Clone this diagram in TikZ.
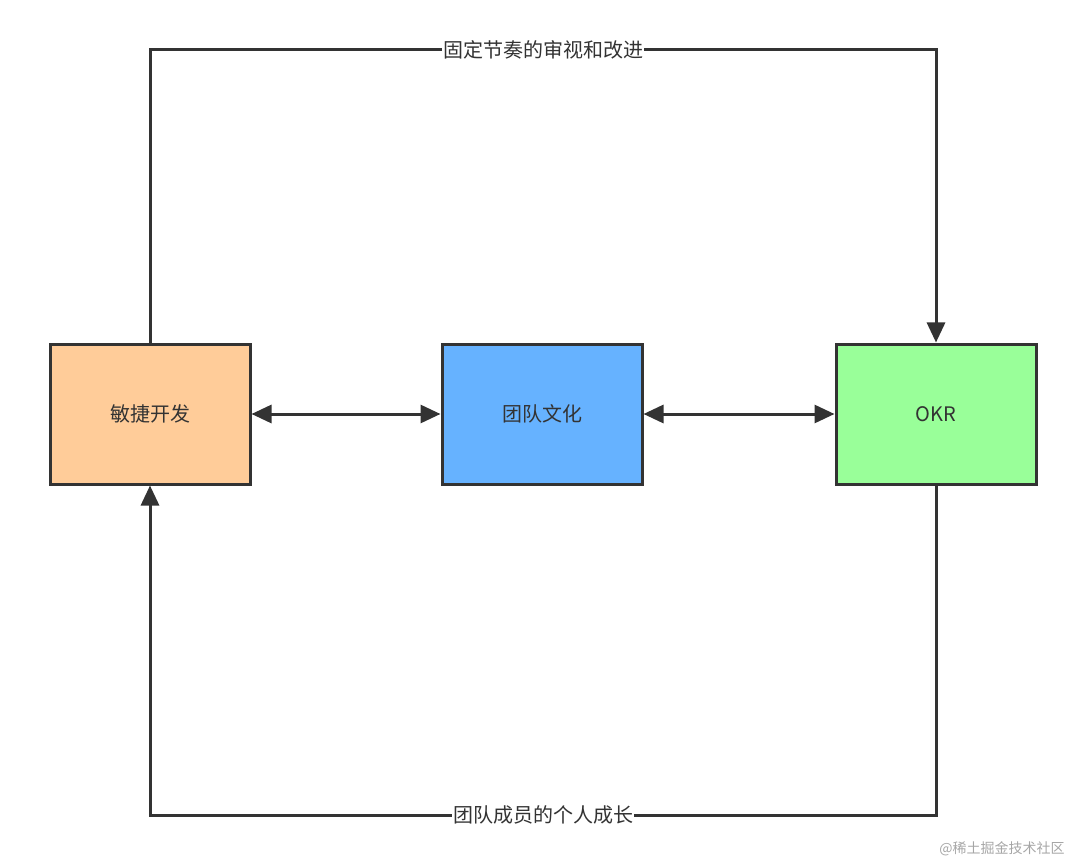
\documentclass[tikz,border=0pt]{standalone}
\usepackage{fontspec}
\setmainfont{Noto Sans CJK SC}
\usetikzlibrary{arrows.meta}
\definecolor{ln}{HTML}{333333}
\tikzset{x=1pt,y=-1pt,
 box/.style={draw=ln,line width=3pt,minimum width=200pt,minimum height=140pt,font=\fontsize{20}{24}\selectfont,text=ln},
 conn/.style={draw=ln,line width=3pt,-{Triangle[length=20pt,width=18pt]}},
 lab/.style={fill=white,inner sep=1pt,font=\fontsize{20}{24}\selectfont,text=ln}}
\begin{document}
\begin{tikzpicture}
\useasboundingbox (0,0) rectangle (1086,866);
\node[box,fill={rgb,255:red,255;green,204;blue,153}] (a) at (150,414) {敏捷开发};
\node[box,fill={rgb,255:red,102;green,178;blue,255}] (b) at (542,414) {团队文化};
\node[box,fill={rgb,255:red,153;green,255;blue,153}] (c) at (936,414) {OKR};
\draw[conn,{Triangle[length=20pt,width=18pt]}-{Triangle[length=20pt,width=18pt]}] (a) -- (b);
\draw[conn,{Triangle[length=20pt,width=18pt]}-{Triangle[length=20pt,width=18pt]}] (b) -- (c);
\draw[conn] (a.north) -- (150,50) -- node[lab,pos=0.5]{固定节奏的审视和改进} (936,50) -- (c.north);
\draw[conn] (c.south) -- (936,815) -- node[lab,pos=0.5]{团队成员的个人成长} (150,815) -- (a.south);
\node[text=gray!70,font=\fontsize{14}{16}\selectfont] (w) at (1002,849) {@稀土掘金技术社区};
\end{tikzpicture}
\end{document}
